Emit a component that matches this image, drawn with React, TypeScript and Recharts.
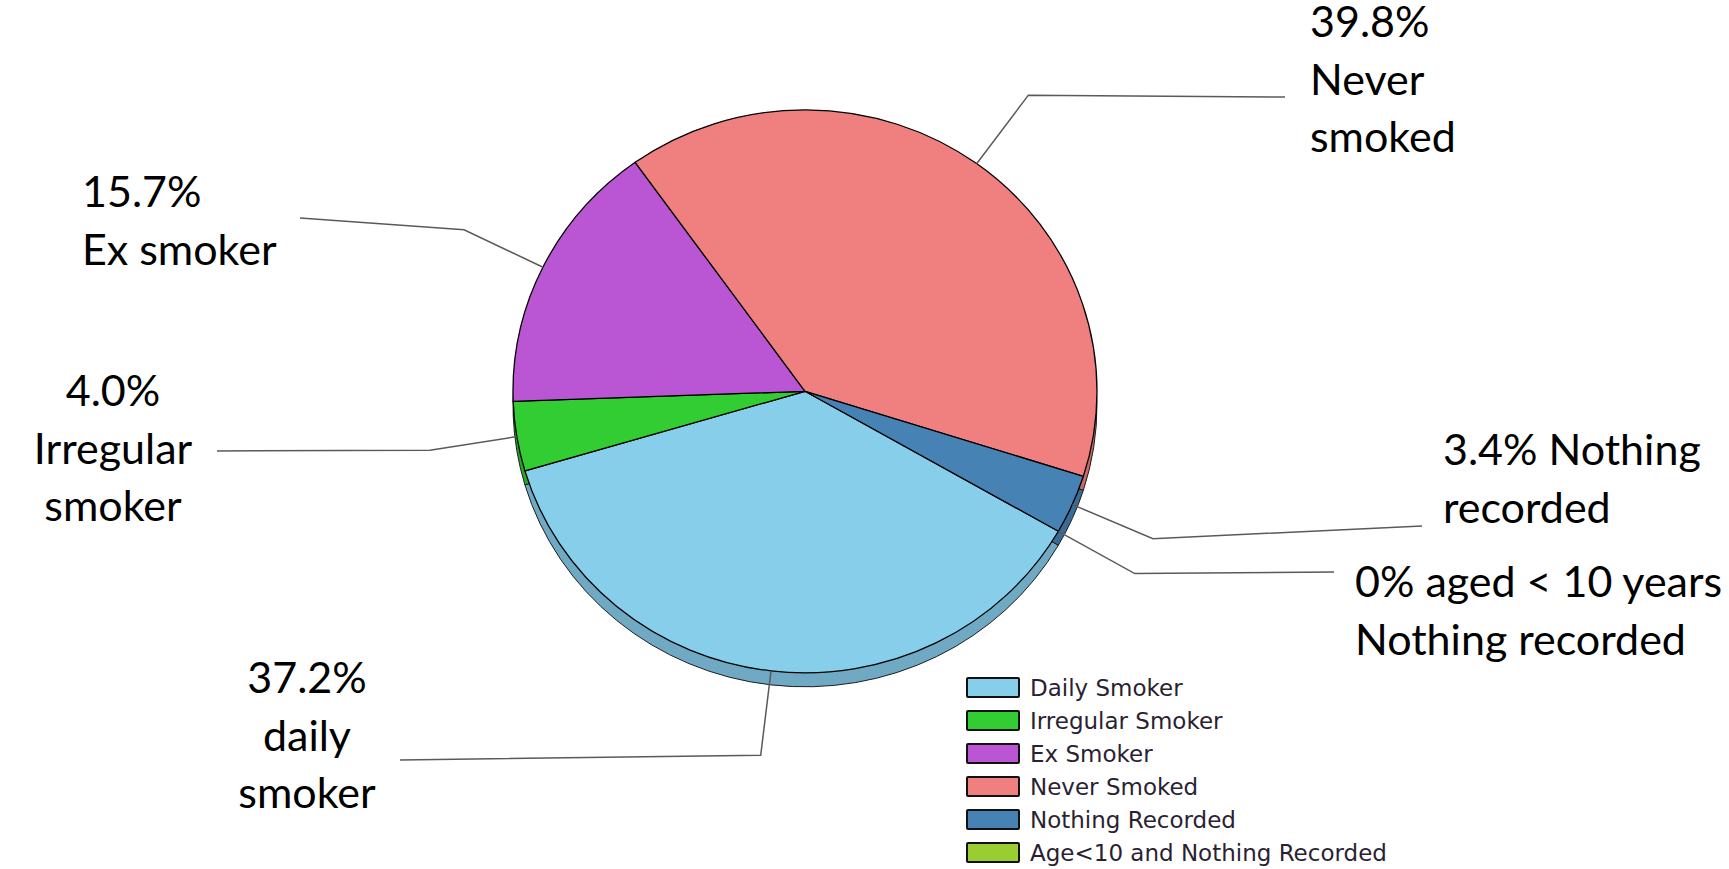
import { PieChart, Pie, Cell, Legend } from "recharts";

const categories = [
  "Daily Smoker",
  "Irregular Smoker",
  "Ex Smoker",
  "Never Smoked",
  "Nothing Recorded",
  "Age<10 and Nothing Recorded",
];
const shares = [37.2, 4.0, 15.7, 39.8, 3.4, 0];
const labelLines = [
  ["37.2%", "daily", "smoker"],
  ["4.0%", "Irregular", "smoker"],
  ["15.7%", "Ex smoker"],
  ["39.8%", "Never", "smoked"],
  ["3.4% Nothing", "recorded"],
  ["0% aged < 10 years", "Nothing recorded"],
];

const topColors = ["#87CEEB", "#32CD32", "#BA55D3", "#F08080", "#4682B4", "#9ACD32"];
const sideColors = ["#6FA9C3", "#28A62C", "#9444AA", "#C86868", "#386C96", "#7CA628"];

// pie is drawn as a slightly tilted disc (squashed vertically)
const CX = 800;
const CY = 386.5;
const R = 292;
const TILT = 0.964;
const DEPTH = 14;
const ELBOW = 88;

// callout line end and text block for each slice
const calloutLayout = [
  { endX: 400, endY: 760, textX: 307, textY: 693, anchor: "middle" },
  { endX: 217, endY: 451, textX: 113, textY: 406, anchor: "middle" },
  { endX: 300, endY: 218, textX: 82, textY: 207, anchor: "start" },
  { endX: 1285, endY: 97, textX: 1310, textY: 37, anchor: "start" },
  { endX: 1422, endY: 526, textX: 1443, textY: 465, anchor: "start" },
  { endX: 1334, endY: 572, textX: 1355, textY: 597, anchor: "start" },
];

const data = categories.map((name, i) => ({ name, value: shares[i] }));

const RAD = Math.PI / 180;
const onDisc = (cx: number, cy: number, r: number, a: number) => ({
  x: cx + r * Math.cos(a * RAD),
  y: cy - r * TILT * Math.sin(a * RAD),
});

function Callout(props: any) {
  const { cx, cy, midAngle, outerRadius, index } = props;
  const lay = calloutLayout[index];
  const p0 = onDisc(cx, cy, outerRadius, midAngle);
  const p1 = onDisc(cx, cy, outerRadius + ELBOW, midAngle);
  return (
    <g>
      <polyline
        points={`${p0.x},${p0.y} ${p1.x},${p1.y} ${lay.endX},${lay.endY}`}
        fill="none"
        stroke="#5a5a5a"
        strokeWidth={1.5}
      />
      <text
        x={lay.textX}
        y={lay.textY}
        textAnchor={lay.anchor}
        fontFamily="Lato, 'Open Sans', sans-serif"
        fontSize={43}
        fill="#000"
      >
        {labelLines[index].map((line, j) => (
          <tspan key={j} x={lay.textX} y={lay.textY + j * 57.5}>
            {line}
          </tspan>
        ))}
      </text>
    </g>
  );
}

function LegendBox() {
  return (
    <div>
      {categories.map((name, i) => (
        <div key={name} style={{ display: "flex", alignItems: "center", height: 33, whiteSpace: "nowrap" }}>
          <div
            style={{
              width: 50,
              height: 17,
              background: topColors[i],
              border: "2px solid #111",
              borderRadius: 2,
              marginRight: 10,
              flexShrink: 0,
            }}
          />
          <span style={{ fontFamily: "'DejaVu Sans', sans-serif", fontSize: 23, color: "#2b1f33" }}>{name}</span>
        </div>
      ))}
    </div>
  );
}

const tiltCss = `
.tilted .recharts-pie-sector {
  transform-box: view-box;
  transform-origin: ${CX}px ${CY}px;
  transform: scaleY(${TILT});
}
`;

export default function App() {
  return (
    <div
      className="tilted"
      style={{ position: "absolute", top: 0, left: 0, width: 1729, height: 869, background: "#fff" }}
    >
      <style>{tiltCss}</style>
      <PieChart width={1729} height={869}>
        <Pie
          data={data}
          dataKey="value"
          nameKey="name"
          cx={CX}
          cy={CY + DEPTH / TILT}
          outerRadius={R}
          startAngle={-29.8}
          endAngle={-389.8}
          stroke="#1a1a1a"
          strokeWidth={1}
          legendType="none"
          isAnimationActive={false}
        >
          {data.map((d, i) => (
            <Cell key={d.name} fill={sideColors[i]} />
          ))}
        </Pie>
        <Pie
          data={data}
          dataKey="value"
          nameKey="name"
          cx={CX}
          cy={CY}
          outerRadius={R}
          startAngle={-29.8}
          endAngle={-389.8}
          stroke="#000"
          strokeWidth={1.3}
          label={Callout}
          labelLine={false}
          isAnimationActive={false}
        >
          {data.map((d, i) => (
            <Cell key={d.name} fill={topColors[i]} />
          ))}
        </Pie>
        <Legend
          content={LegendBox}
          layout="vertical"
          wrapperStyle={{ position: "absolute", left: 966, top: 671, width: 420 }}
        />
      </PieChart>
    </div>
  );
}
